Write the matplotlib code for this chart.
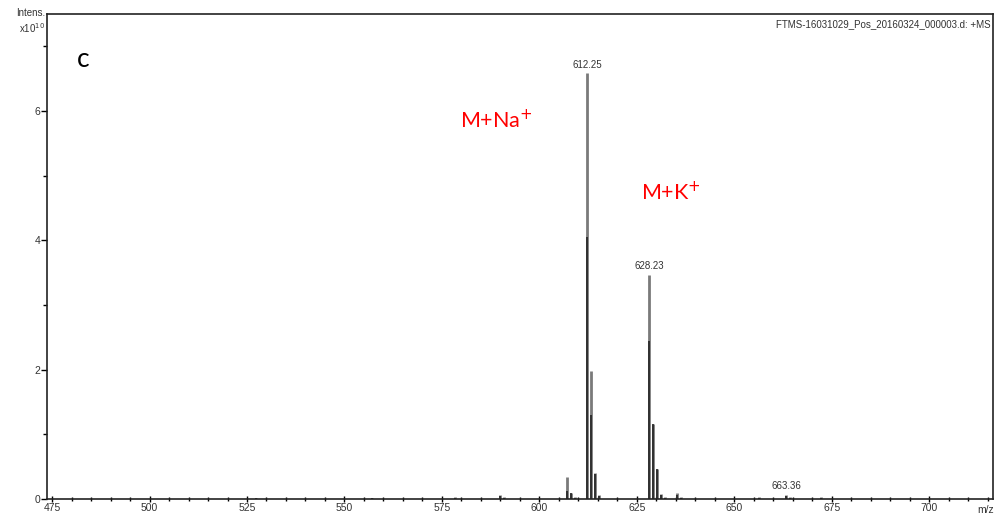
import numpy as np
import matplotlib.pyplot as plt
from matplotlib.ticker import MultipleLocator

# peak list (m/z, intensity x1e10)
mz = [527.3, 557.2, 578.3, 589.9, 590.9, 607.0, 608.1, 609.1, 612.25, 613.25, 614.25, 615.2,
      628.23, 629.23, 630.23, 631.2, 632.2, 635.3, 636.3, 656.3, 663.36, 664.36, 672.4]
grey_h = [0.02, 0.02, 0.03, 0.06, 0.03, 0.34, 0.10, 0.03, 6.59, 1.98, 0.40, 0.06,
          3.47, 1.16, 0.46, 0.08, 0.03, 0.09, 0.03, 0.03, 0.07, 0.03, 0.03]
black_h = [0.01, 0.01, 0.02, 0.04, 0.02, 0.12, 0.09, 0.02, 4.05, 1.30, 0.38, 0.05,
           2.45, 1.16, 0.46, 0.07, 0.02, 0.06, 0.02, 0.02, 0.05, 0.02, 0.02]

labelled = [612.25, 628.23, 663.36]

fig = plt.figure(figsize=(10.01, 5.15), dpi=100)
ax = fig.add_axes([0.047, 0.031, 0.945, 0.942])

ax.vlines(mz, 0, grey_h, color="#7a7a7a", lw=2.0)
ax.vlines(mz, 0, black_h, color="#1a1a1a", lw=1.1)

for m in labelled:
    h = grey_h[mz.index(m)]
    ax.text(m, h + 0.05, f"{m:.2f}", ha="center", va="bottom", fontsize=7,
            color="#333333", family="Liberation Sans")

ax.set_xlim(473.7, 716.4)
ax.set_ylim(0, 7.5)
ax.xaxis.set_major_locator(MultipleLocator(25))
ax.xaxis.set_minor_locator(MultipleLocator(5))
ax.yaxis.set_major_locator(MultipleLocator(2))
ax.yaxis.set_minor_locator(MultipleLocator(1))
ax.tick_params(axis="both", which="major", length=4, width=1, labelsize=7.5,
               labelcolor="#333333", pad=1)
ax.tick_params(axis="both", which="minor", length=3, width=1)
ax.tick_params(axis="x", which="both", direction="inout")
for sp in ax.spines.values():
    sp.set_linewidth(1.2)
    sp.set_color("#222222")
for lab in ax.get_xticklabels() + ax.get_yticklabels():
    lab.set_family("Liberation Sans")

ax.text(0.998, 0.99, "FTMS-16031029_Pos_20160324_000003.d: +MS", transform=ax.transAxes,
        ha="right", va="top", fontsize=7, color="#333333", family="Liberation Sans")
fig.text(0.045, 0.985, "Intens.", ha="right", va="top", fontsize=7,
         color="#333333", family="Liberation Sans")
fig.text(0.045, 0.958, r"x10$^{10}$", ha="right", va="top", fontsize=7,
         color="#333333", family="Liberation Sans")
fig.text(0.993, 0.0, "m/z", ha="right", va="bottom", fontsize=7.5,
         color="#333333", family="Liberation Sans")

ax.text(0.032, 0.905, "c", transform=ax.transAxes, fontsize=19, ha="left", va="center",
        family="Lato")
ax.text(589.0, 5.86, "M+Na$^{+}$", color="red", fontsize=15.5, ha="center", va="center",
        family="Lato")
ax.text(633.8, 4.74, "M+K$^{+}$", color="red", fontsize=15.5, ha="center", va="center",
        family="Lato")

fig.savefig("out.png", dpi=100)
